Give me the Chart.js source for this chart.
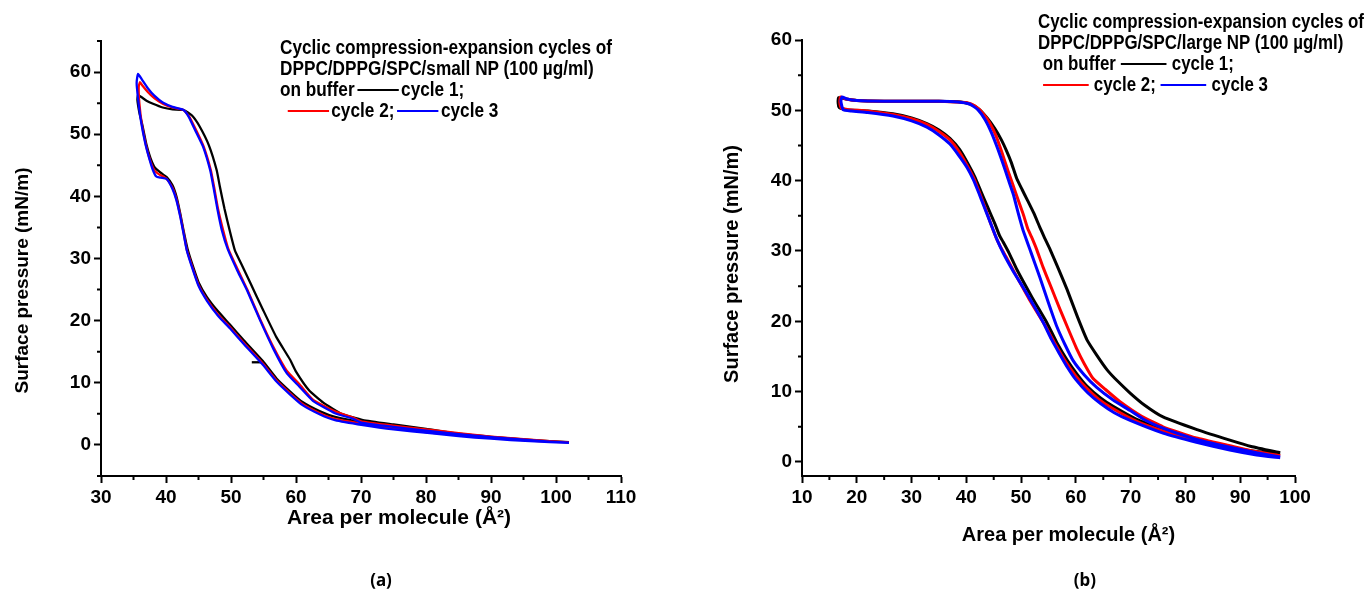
<!DOCTYPE html>
<html>
<head>
<meta charset="utf-8">
<script src="https://cdn.jsdelivr.net/npm/chart.js@4.4.0/dist/chart.umd.min.js"></script>
<style>
    body { margin: 0; width: 1371px; height: 596px; background: #fff; position: relative; overflow: hidden; }
    canvas { position: absolute; top: 0; }
    #chartA { left: 0; }
    #chartB { left: 700px; }
    .legend {
        position: absolute; font: bold 20px 'Liberation Sans', Arial, sans-serif;
        line-height: 21px; white-space: nowrap; transform-origin: 0 0; color: #000;
    }
    .legend div { height: 21px; }
    .swatch { display: inline-block; width: 48px; height: 0; border-top: 2px solid; vertical-align: middle; margin: 0 3px; position: relative; top: -1px; }
    #legendB .swatch { width: 54px; margin: 0 6px; }
    .caption { position: absolute; top: 568px; font: bold 17px 'Noto Sans', sans-serif; transform: translateX(-50%); }
</style>
</head>
<body>
<canvas id="chartA" width="700" height="596"></canvas>
<canvas id="chartB" width="671" height="596"></canvas>

<div class="legend" id="legendA" style="left:280px; top:37px;">
    <div class="first">Cyclic compression-expansion cycles of</div>
    <div>DPPC/DPPG/SPC/small NP (100 µg/ml)</div>
    <div>on buffer<span class="swatch" style="color:#000"></span>cycle 1;</div>
    <div>&nbsp;<span class="swatch" style="color:#f00"></span>cycle 2;<span class="swatch" style="color:#00f"></span>cycle 3</div>
</div>
<div class="legend" id="legendB" style="left:1038px; top:11px;">
    <div class="first">Cyclic compression-expansion cycles of</div>
    <div>DPPC/DPPG/SPC/large NP (100 µg/ml)</div>
    <div>&nbsp;on buffer<span class="swatch" style="color:#000"></span>cycle 1;</div>
    <div><span class="swatch" style="color:#f00"></span>cycle 2;<span class="swatch" style="color:#00f"></span>cycle 3</div>
</div>
<div class="caption" style="left:381px">(a)</div>
<div class="caption" style="left:1085px">(b)</div>

<script>
// ---- panel (a): small NP ----
const aXTicks = [30, 40, 50, 60, 70, 80, 90, 100, 110];
const aXMinor = [35, 45, 55, 65, 75, 85, 95, 105];
const aYTicks = [0, 10, 20, 30, 40, 50, 60];
const aYMinor = [-5, 5, 15, 25, 35, 45, 55, 65];

// each cycle: compression (large -> small area) then expansion back
const aCycle1 = [
    [102, 0.45], [96, 0.8], [90, 1.3], [85, 1.8], [80, 2.6], [75, 3.3], [70.3, 4.0], [67, 5.0], [64.2, 6.8], [62, 8.8],
    [60, 11.8], [59.1, 13.7], [57, 17.3], [54.9, 21.8], [53, 26.0], [51.5, 29.3], [50.6, 31.3], [49.8, 34.5], [49.0, 38.0],
    [48.3, 41.5], [47.8, 44.2], [46.6, 48.2], [45.2, 51.2], [44, 53.0], [42.7, 53.9], [41, 54.0], [39.5, 54.3], [38, 54.9],
    [37, 55.4], [36.3, 55.9], [35.7, 56.3],
    [35.6, 55.5], [35.9, 53.5], [36.4, 51.3], [37.0, 48.3], [37.6, 46.2], [38.3, 44.6], [39.2, 43.8], [40.1, 43.1], [41, 41.8],
    [41.6, 40.0], [42.2, 37.2], [42.7, 34.5], [43.3, 31.6], [44, 29.2], [45, 26.2], [46.3, 23.8], [48, 21.5], [49.8, 19.4],
    [52, 16.8], [54.9, 13.5], [57, 10.7], [59.1, 8.6], [61, 6.9], [63.7, 5.4], [66, 4.5], [70.3, 3.6], [75, 2.9], [80.6, 2.2],
    [85, 1.7], [90, 1.2], [96, 0.75], [102, 0.45]
];
const aCycle2 = [
    [102, 0.4], [96, 0.85], [90, 1.35], [85, 1.9], [80, 2.5], [75, 3.1], [70, 3.8], [68.8, 4.4], [66, 5.4], [62.6, 7.3],
    [60.5, 9.8], [58.6, 11.9], [56.5, 15.8], [54.5, 20.2], [52.5, 25.0], [51, 28.3], [49.6, 31.5], [48.8, 34.5], [48.0, 38.0],
    [47.4, 41.5], [46.9, 44.2], [45.8, 48.0], [44.7, 50.5], [43.6, 52.8], [42.7, 53.9], [41, 54.3], [39.5, 54.9], [38.2, 55.8],
    [37.2, 56.8], [36.4, 57.8], [36.0, 58.4],
    [35.8, 57.6], [35.9, 55.0], [36.3, 51.5], [36.9, 48.3], [37.5, 46.0], [38.2, 44.2], [39, 43.5], [40.1, 42.8], [41, 41.4],
    [41.6, 39.6], [42.2, 36.9], [42.7, 34.2], [43.2, 31.4], [44, 28.8], [45, 25.8], [46.3, 23.4], [48, 21.0], [49.8, 19.0],
    [52, 16.4], [54.9, 13.1], [57, 10.4], [59.1, 8.3], [61, 6.6], [63.7, 5.1], [66, 4.2], [70.3, 3.4], [75, 2.7], [80.6, 2.0],
    [85, 1.6], [90, 1.15], [96, 0.7], [102, 0.4]
];
const aCycle3 = [
    [102, 0.35], [96, 0.75], [90, 1.25], [85, 1.75], [80, 2.3], [75, 2.9], [70, 3.6], [68.8, 4.2], [66, 5.1], [62.6, 7.1],
    [60.5, 9.4], [58.6, 11.5], [56.5, 15.5], [54.5, 20.0], [52.5, 24.8], [51, 28.0], [49.5, 31.5], [48.6, 34.5], [47.9, 38.0],
    [47.3, 41.5], [46.8, 44.2], [45.7, 48.0], [44.6, 50.4], [43.5, 52.8], [42.7, 53.9], [41, 54.4], [39.5, 55.1], [38.2, 56.2],
    [37.2, 57.4], [36.3, 58.8], [35.7, 59.7],
    [35.5, 58.6], [35.5, 57.8], [35.8, 54.8], [36.2, 51.8], [36.8, 48.6], [37.4, 46.2], [38.0, 44.2], [38.5, 43.2], [39.2, 43.0],
    [40.1, 42.8], [41, 41.2], [41.6, 39.4], [42.2, 36.7], [42.7, 34.0], [43.2, 31.3], [44, 28.6], [45, 25.6], [46.3, 23.2],
    [48, 20.8], [49.8, 18.8], [52, 16.2], [54.9, 12.9], [57, 10.2], [59.1, 8.1], [61, 6.4], [63.7, 4.9], [66, 4.0], [70.3, 3.2],
    [75, 2.5], [80.6, 1.9], [85, 1.4], [90, 1.0], [96, 0.6], [102, 0.35]
];
// small stray black dash on the lower branch
const aDash = [[53.2, 13.3], [55.0, 13.3]];

// ---- panel (b): large NP ----
const bXTicks = [10, 20, 30, 40, 50, 60, 70, 80, 90, 100];
const bXMinor = [15, 25, 35, 45, 55, 65, 75, 85, 95];
const bYTicks = [0, 10, 20, 30, 40, 50, 60];
const bYMinor = [5, 15, 25, 35, 45, 55];

const bCycle1 = [
    [97.3, 1.3], [92, 2.2], [88.1, 3.1], [82.1, 4.6], [75.9, 6.4], [72.5, 8.1], [69.9, 9.8], [67.6, 11.5], [65.7, 13.1],
    [63.8, 15.2], [62, 17.4], [60.2, 20.8], [58.4, 24.5], [56.8, 27.5], [55.3, 30.2], [54.2, 32.0], [53.4, 33.4], [52.3, 35.4],
    [51.1, 37.3], [50.2, 38.7], [49.2, 40.3], [48.2, 42.6], [47.3, 44.3], [46.4, 45.8], [45.2, 47.4], [43.8, 48.9], [42.4, 50.1],
    [41, 50.8], [39, 51.2], [35, 51.3], [30, 51.3], [25, 51.3], [20, 51.4], [18, 51.6], [16.7, 51.8],
    [16.6, 51.0], [16.8, 50.4], [18, 50.1], [22, 49.9], [26.6, 49.5], [30, 48.9], [32.8, 48.1], [35, 47.2], [37, 46.0],
    [38.8, 44.4], [40.3, 42.4], [41.5, 40.6], [42.6, 38.6], [43.8, 36.4], [45.2, 33.9], [46.0, 32.3], [46.7, 31.3], [47.8, 29.7],
    [49.2, 27.4], [52, 23.4], [54.7, 19.8], [56.5, 17.0], [58.4, 14.5], [60.2, 12.5], [62, 10.8], [64.5, 9.1], [66.8, 7.9],
    [71, 6.1], [75.9, 4.7], [82, 3.3], [88.1, 2.1], [93, 1.5], [97.3, 1.2]
];
const bCycle2 = [
    [97.3, 0.9], [92, 1.6], [88.1, 2.3], [82, 3.4], [75.9, 5.0], [72, 6.5], [68, 8.6], [65.4, 10.3], [63.1, 11.9], [61.5, 14.0],
    [60.2, 16.0], [58.6, 18.9], [57.1, 21.7], [55.5, 24.8], [54, 27.7], [52.8, 30.3], [51.9, 32.0], [51.2, 33.2], [50.4, 35.2],
    [49.4, 37.4], [48.5, 39.4], [47.6, 41.4], [46.5, 44.0], [45.4, 46.4], [44.2, 48.3], [43.0, 49.6], [41.6, 50.6], [40, 51.1],
    [38, 51.2], [35, 51.3], [30, 51.3], [25, 51.3], [20, 51.4], [18, 51.6], [17.0, 51.9],
    [16.9, 51.1], [17.2, 50.3], [18.5, 50.1], [22, 49.9], [26.6, 49.4], [30, 48.8], [32.8, 48.0], [35, 47.0], [37, 45.8],
    [38.7, 44.1], [40.2, 42.1], [41.4, 40.3], [42.4, 38.3], [43.4, 36.2], [44.6, 33.6], [45.5, 31.8], [46.3, 30.5], [47.3, 29.1],
    [48.6, 27.2], [51.5, 23.1], [54.3, 19.5], [56.2, 16.8], [58, 14.4], [59.9, 12.3], [61.8, 10.6], [64.2, 8.9], [66.5, 7.7],
    [71, 5.8], [75.9, 4.4], [82, 3.0], [88.1, 1.9], [93, 1.2], [97.3, 0.9]
];
const bCycle3 = [
    [97.3, 0.7], [93, 1.3], [88.1, 2.1], [82, 3.2], [75.9, 4.8], [72.5, 6.0], [69.9, 7.3], [66.8, 8.8], [63.8, 10.6],
    [61.5, 12.4], [59.5, 14.4], [58, 16.7], [56.5, 19.3], [55, 22.6], [53.4, 26.3], [51.8, 29.8], [50.3, 33.1], [49.4, 35.6],
    [48.6, 38.0], [47.6, 40.3], [46.7, 42.4], [45.7, 44.6], [44.6, 46.8], [43.4, 48.7], [42.1, 50.1], [40.6, 50.9], [38.5, 51.2],
    [35, 51.3], [30, 51.3], [25, 51.3], [20, 51.4], [18.2, 51.6], [17.3, 51.9],
    [17.1, 51.3], [17.5, 50.1], [19, 49.9], [22, 49.7], [26.6, 49.2], [30, 48.5], [32.8, 47.6], [35, 46.5], [37, 45.2],
    [38.6, 43.6], [40.1, 41.9], [41.3, 40.1], [42.3, 38.2], [43.2, 36.4], [44.4, 34.0], [45.5, 31.8], [46.8, 29.6], [48.5, 27.2],
    [50.3, 24.9], [52.2, 22.4], [54, 19.9], [55.5, 17.5], [57, 15.4], [58.5, 13.4], [60, 11.7], [62.2, 9.8], [64.5, 8.3],
    [67, 7.0], [69.9, 5.9], [75.9, 4.1], [82, 2.8], [88.1, 1.7], [93, 1.0], [97.3, 0.6]
];

const FONT = "'Liberation Sans', Arial, sans-serif";
const X_TITLE = 'Area per molecule (Å²)';
const Y_TITLE = 'Surface pressure (mN/m)';

// Draws the short minor ticks between the labelled ones
const minorTicks = {
    id: 'minorTicks',
    afterDraw(chart, args, opts) {
        const ctx = chart.ctx;
        const area = chart.chartArea;
        ctx.save();
        ctx.strokeStyle = '#000';
        ctx.lineWidth = 2;
        ctx.beginPath();
        opts.x.forEach(v => {
            let px = chart.scales.x.getPixelForValue(v);
            ctx.moveTo(px, area.bottom);
            ctx.lineTo(px, area.bottom + 4);
        });
        opts.y.forEach(v => {
            let py = chart.scales.y.getPixelForValue(v);
            ctx.moveTo(area.left, py);
            ctx.lineTo(area.left - 4, py);
        });
        ctx.stroke();
        ctx.restore();
    }
};

// Axis titles: the original places them a little off the axis centre
const axisTitles = {
    id: 'axisTitles',
    afterDraw(chart, args, o) {
        const ctx = chart.ctx;
        const a = chart.chartArea;
        ctx.save();
        ctx.fillStyle = '#000';
        ctx.textAlign = 'center';
        ctx.textBaseline = 'middle';
        ctx.font = 'bold ' + o.xSize + 'px ' + FONT;
        ctx.fillText(X_TITLE, (a.left + a.right) / 2 + o.xShift, o.xAt);
        ctx.translate(o.yAt, (a.top + a.bottom) / 2 + o.yShift);
        ctx.rotate(-Math.PI / 2);
        ctx.font = 'bold ' + o.ySize + 'px ' + FONT;
        ctx.fillText(Y_TITLE, 0, 0);
        ctx.restore();
    }
};

function toPoints(arr) {
    return arr.map(p => ({ x: p[0], y: p[1] }));
}

function lineSet(arr, color, width) {
    return {
        data: toPoints(arr),
        borderColor: color,
        borderWidth: width,
        showLine: true,
        pointRadius: 0,
        tension: 0.15,
        fill: false
    };
}

function axis(min, max, ticks, fixedSize, horizontal) {
    return {
        type: 'linear',
        min: min,
        max: max,
        afterBuildTicks: s => { s.ticks = ticks.map(v => ({ value: v })); },
        afterFit: s => {
            if (horizontal) s.height = fixedSize;
            else s.width = fixedSize;
        },
        ticks: {
            color: '#000',
            font: { family: FONT, size: 19, weight: 'bold' },
            padding: 3,
            autoSkip: false,
            maxRotation: 0
        },
        grid: {
            drawOnChartArea: false,
            drawTicks: true,
            tickLength: 7,
            tickWidth: 2,
            tickColor: '#000'
        },
        border: { display: true, color: '#000', width: 2 },
        title: { display: false }
    };
}

function makePanel(canvas, sets, cfg) {
    return new Chart(canvas, {
        type: 'scatter',
        data: { datasets: sets },
        options: {
            responsive: false,
            animation: false,
            events: [],
            devicePixelRatio: 1,
            layout: { padding: { left: 0, top: cfg.top, right: cfg.right, bottom: 0 } },
            scales: {
                x: axis(cfg.xMin, cfg.xMax, cfg.xTicks, 120, true),
                y: axis(cfg.yMin, cfg.yMax, cfg.yTicks, cfg.yWidth, false)
            },
            plugins: {
                legend: { display: false },
                tooltip: { enabled: false },
                minorTicks: { x: cfg.xMinor, y: cfg.yMinor },
                axisTitles: cfg.titles
            }
        },
        plugins: [minorTicks, axisTitles]
    });
}

// blue first so it sits on top, as in the original
makePanel(document.getElementById('chartA'), [
    lineSet(aCycle3, '#0000ff', 2.3),
    lineSet(aCycle2, '#ff0000', 2.3),
    lineSet(aCycle1, '#000000', 2.3),
    lineSet(aDash, '#000000', 2.3)
], {
    top: 41, right: 79, yWidth: 101,
    xMin: 30, xMax: 110, xTicks: aXTicks, xMinor: aXMinor,
    yMin: -5, yMax: 65, yTicks: aYTicks, yMinor: aYMinor,
    titles: { xSize: 21, xShift: 38, xAt: 518, ySize: 19, yShift: 22, yAt: 23 }
});

makePanel(document.getElementById('chartB'), [
    lineSet(bCycle3, '#0000ff', 3),
    lineSet(bCycle2, '#ff0000', 3),
    lineSet(bCycle1, '#000000', 3)
], {
    top: 40, right: 76, yWidth: 102,
    xMin: 10, xMax: 100, xTicks: bXTicks, xMinor: bXMinor,
    yMin: -2, yMax: 60, yTicks: bYTicks, yMinor: bYMinor,
    titles: { xSize: 20, xShift: 20, xAt: 535, ySize: 20, yShift: 6, yAt: 32 }
});

// squeeze the legend text to the narrow width of the original
function fitLegend(id, target) {
    let box = document.getElementById(id);
    let first = box.querySelector('.first');
    let range = document.createRange();
    range.selectNodeContents(first);
    let w = range.getBoundingClientRect().width;
    box.style.transform = 'scaleX(' + (target / w) + ')';
}
fitLegend('legendA', 332);
fitLegend('legendB', 326);
</script>
</body>
</html>
